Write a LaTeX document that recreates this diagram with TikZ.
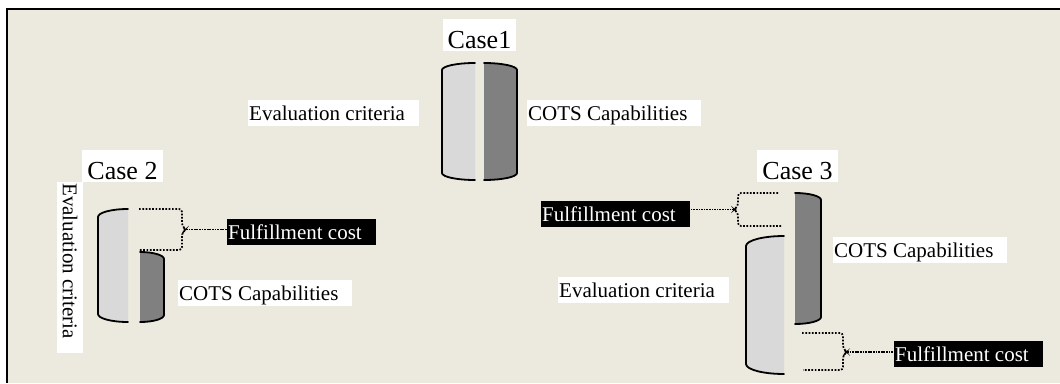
\documentclass[tikz,border=0pt]{standalone}
\usepackage{fontspec}
\setmainfont{Liberation Serif}
\definecolor{panel}{HTML}{ECE9DF}
\definecolor{critfill}{HTML}{D9D9D9}
\definecolor{cotsfill}{HTML}{808080}

% Left half of a split cylinder: #1 left x, #2 right x, #3 top y, #4 bottom y, #5 rim depth, #6 fill
\newcommand{\halfcylleft}[6]{%
  \fill[#6] (#2,#3) .. controls ({#2-0.552*(#2-#1)},#3) and (#1,{#3+0.448*#5}) .. (#1,{#3+#5})
    -- (#1,{#4-#5}) .. controls (#1,{#4-0.448*#5}) and ({#2-0.552*(#2-#1)},#4) .. (#2,#4) -- cycle;
  \draw[rim] (#2,#3) .. controls ({#2-0.552*(#2-#1)},#3) and (#1,{#3+0.448*#5}) .. (#1,{#3+#5})
    -- (#1,{#4-#5}) .. controls (#1,{#4-0.448*#5}) and ({#2-0.552*(#2-#1)},#4) .. (#2,#4);}
% Right half of a split cylinder
\newcommand{\halfcylright}[6]{%
  \fill[#6] (#1,#3) .. controls ({#1+0.552*(#2-#1)},#3) and (#2,{#3+0.448*#5}) .. (#2,{#3+#5})
    -- (#2,{#4-#5}) .. controls (#2,{#4-0.448*#5}) and ({#1+0.552*(#2-#1)},#4) .. (#1,#4) -- cycle;
  \draw[rim] (#1,#3) .. controls ({#1+0.552*(#2-#1)},#3) and (#2,{#3+0.448*#5}) .. (#2,{#3+#5})
    -- (#2,{#4-#5}) .. controls (#2,{#4-0.448*#5}) and ({#1+0.552*(#2-#1)},#4) .. (#1,#4);}

\tikzset{
  rim/.style={line width=1.8pt, line cap=round},
  lbl/.style={fill=white, anchor=north west, inner xsep=1pt, inner ysep=1pt,
    text height=19pt, text depth=5pt, font=\fontsize{21}{24}\selectfont,
    execute at end node={\hspace*{13pt}}},
  costlbl/.style={lbl, fill=black, text=white},
  caselbl/.style={fill=white, anchor=north, inner xsep=5pt, inner ysep=1pt,
    text height=28pt, text depth=2pt, font=\fontsize{26}{30}\selectfont},
  brace/.style={line width=1.7pt, dash pattern=on 1.7pt off 1.6pt, rounded corners=3pt},
  lead/.style={line width=1.7pt, dash pattern=on 1.7pt off 0.9pt}
}

\begin{document}
\begin{tikzpicture}[x=1pt,y=-1pt]
\useasboundingbox (0,0) rectangle (1060,383);
% panel and its frame
\fill[white] (0,0) rectangle (1060,383);
\fill[panel] (7,9) rectangle (1060,383);
\draw[line width=2pt] (7,383) -- (7,9) -- (1060,9);

% ---- Case 1 ----
\halfcylleft{442}{475}{63}{180}{7}{critfill}
\halfcylright{484}{517}{63}{180}{7}{cotsfill}
\node[caselbl] (case1) at (479.5,19) {Case1};
\node[lbl] (eval1) at (248,100) {Evaluation criteria};
\node[lbl] (cots1) at (527,100) {COTS Capabilities};

% ---- Case 2 ----
\halfcylleft{98}{128}{209}{322}{8}{critfill}
\halfcylright{140}{164}{252}{322}{7}{cotsfill}
\node[caselbl] (case2) at (122.5,150) {Case 2};
\node[lbl, rotate=-90] (eval2) at (83,182) {Evaluation criteria};
\node[lbl] (cots2) at (178,280) {COTS Capabilities};
\node[costlbl] (cost2) at (227,219) {Fulfillment cost};
\draw[brace] (139,209) -- (182,209) -- (182,226) -- (186,229.5) -- (182,233) -- (182,250) -- (139,250);
\coordinate (tip2) at (186,229.5);
\draw[lead] (tip2) -- (tip2 -| cost2.west);

% ---- Case 3 ----
\halfcylleft{746}{784}{236}{374}{10}{critfill}
\halfcylright{795}{821}{193}{324}{7}{cotsfill}
\node[caselbl] (case3) at (797.5,150) {Case 3};
\node[lbl] (cots3) at (833,237) {COTS Capabilities};
\node[lbl] (eval3) at (558,277) {Evaluation criteria};
\node[costlbl] (cost3a) at (541,201) {Fulfillment cost};
\node[costlbl] (cost3b) at (894,341) {Fulfillment cost};
\draw[brace] (778,193) -- (738,193) -- (738,206) -- (734,209.5) -- (738,213) -- (738,226) -- (782,226);
\coordinate (tip3a) at (734,209.5);
\draw[lead] (tip3a) -- (tip3a -| cost3a.east);
\draw[brace] (802,333) -- (843,333) -- (843,348.5) -- (847,352) -- (843,355.5) -- (843,370) -- (803,370);
\coordinate (tip3b) at (847,352);
\draw[lead] (tip3b) -- (tip3b -| cost3b.west);
\end{tikzpicture}
\end{document}
